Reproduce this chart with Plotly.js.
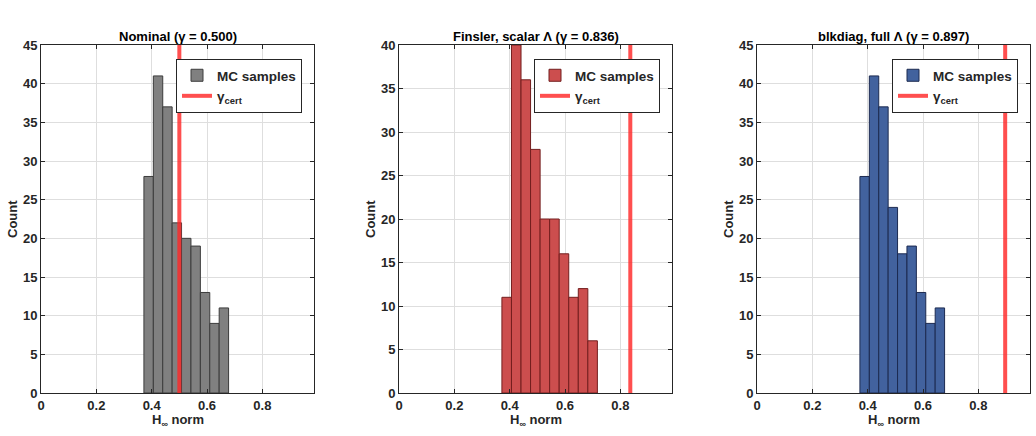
<!DOCTYPE html>
<html>
<head>
<meta charset="utf-8">
<script src="https://cdn.plot.ly/plotly-3.0.1.min.js"></script>
<style>html,body{margin:0;padding:0;background:#fff;}#chart{width:1036px;height:436px;}</style>
</head>
<body>
<div id="chart"></div>
<script>
// ---- data ----
const panelTitles = ['Nominal (γ = 0.500)', 'Finsler, scalar Λ (γ = 0.836)', 'blkdiag, full Λ (γ = 0.897)'];
const gammaCert = [0.500, 0.836, 0.897];

const edgesNominal = [0.372, 0.406, 0.440, 0.474, 0.508, 0.542, 0.576, 0.610, 0.644, 0.678];
const countsNominal = [28, 41, 37, 22, 20, 19, 13, 9, 11];

const edgesFinsler = [0.372, 0.4065, 0.441, 0.4755, 0.510, 0.5445, 0.579, 0.6135, 0.648, 0.6825, 0.717];
const countsFinsler = [11, 40, 36, 28, 20, 20, 16, 11, 12, 6];

const edgesBlkdiag = [0.372, 0.406, 0.440, 0.474, 0.508, 0.542, 0.576, 0.610, 0.644, 0.678];
const countsBlkdiag = [28, 41, 37, 24, 18, 19, 13, 9, 11];

const yMax = [45, 40, 45];
const xTicks = [0, 0.2, 0.4, 0.6, 0.8];
const xTickText = ['0', '0.2', '0.4', '0.6', '0.8'];
const seriesName = 'MC samples';
const lineName = 'γ<sub>cert</sub>';

// ---- styling ----
const W = 1036, H = 436;
const faces = ['rgb(128,128,128)', 'rgb(204,78,78)', 'rgb(66,98,158)'];
const edgesCol = ['rgb(60,60,60)', 'rgb(115,30,30)', 'rgb(28,42,80)'];
const pxDomains = [[41, 314], [399, 672], [757, 1030]];
const yTop = 45, yBot = 393;
const FONT = 'Liberation Sans, Arial, Helvetica, sans-serif';

const edgesAll = [edgesNominal, edgesFinsler, edgesBlkdiag];
const countsAll = [countsNominal, countsFinsler, countsBlkdiag];

const traces = [];
const layout = {
  width: W, height: H,
  margin: {l: 0, r: 0, t: 0, b: 0},
  paper_bgcolor: '#fff', plot_bgcolor: '#fff',
  font: {family: FONT, size: 13, color: '#262626', weight: 'bold'},
  showlegend: true,
  annotations: [],
  barmode: 'overlay'
};

for (let i = 0; i < 3; i++) {
  const sfx = i === 0 ? '' : String(i + 1);
  const xa = 'x' + sfx, ya = 'y' + sfx;
  const lg = 'legend' + sfx;
  const e = edgesAll[i], c = countsAll[i];
  const lefts = c.map((_, k) => e[k]);
  const widths = c.map((_, k) => e[k + 1] - e[k]);
  traces.push({
    type: 'bar', x: lefts, y: c, width: widths, offset: 0,
    xaxis: xa, yaxis: ya, legend: lg, name: seriesName,
    marker: {color: faces[i], line: {color: edgesCol[i], width: 1}},
    hoverinfo: 'x+y'
  });
  traces.push({
    type: 'scatter', mode: 'lines', x: [gammaCert[i], gammaCert[i]], y: [0, yMax[i]],
    xaxis: xa, yaxis: ya, legend: lg, name: lineName,
    line: {color: 'rgba(255,40,40,0.82)', width: 4}
  });

  const d = pxDomains[i];
  const axCommon = {
    showline: true, linecolor: '#262626', linewidth: 1, mirror: 'ticks',
    ticks: 'inside', ticklen: 4, tickcolor: '#262626',
    showgrid: true, gridcolor: 'rgb(222,222,222)', gridwidth: 1,
    zeroline: false, fixedrange: true,
    tickfont: {family: FONT, size: 13, color: '#262626', weight: 'bold'}
  };
  layout['xaxis' + sfx] = Object.assign({}, axCommon, {
    domain: [d[0] / W, d[1] / W], anchor: ya,
    range: [0, 0.9867], tickvals: xTicks, ticktext: xTickText
  });
  layout['yaxis' + sfx] = Object.assign({}, axCommon, {
    domain: [1 - yBot / H, 1 - yTop / H], anchor: xa,
    range: [0, yMax[i]], dtick: 5, tick0: 0
  });
  layout[lg] = {
    x: (d[1] - 12) / W, xanchor: 'right', xref: 'paper',
    y: 1 - 59 / H, yanchor: 'top', yref: 'paper',
    bgcolor: '#fff', bordercolor: '#262626', borderwidth: 1,
    font: {family: FONT, size: 13.5, color: '#262626', weight: 'bold'},
    tracegroupgap: 0, itemwidth: 30
  };
  const cx = (d[0] + d[1]) / 2 / W;
  layout.annotations.push({
    text: panelTitles[i], xref: 'paper', yref: 'paper', x: cx, y: 1 - 37 / H,
    xanchor: 'center', yanchor: 'middle', showarrow: false,
    font: {family: FONT, size: 13, color: '#000', weight: 'bold'}
  });
  layout.annotations.push({
    text: 'H<sub>∞</sub> norm', xref: 'paper', yref: 'paper', x: cx, y: 1 - 420 / H,
    xanchor: 'center', yanchor: 'middle', showarrow: false,
    font: {family: FONT, size: 13, color: '#262626', weight: 'bold'}
  });
  layout.annotations.push({
    text: 'Count', xref: 'paper', yref: 'paper', x: (d[0] - 29) / W, y: 1 - 219 / H,
    xanchor: 'center', yanchor: 'middle', showarrow: false, textangle: -90,
    font: {family: FONT, size: 13, color: '#262626', weight: 'bold'}
  });
}

Plotly.newPlot('chart', traces, layout, {displayModeBar: false, staticPlot: true});
</script>
</body>
</html>
